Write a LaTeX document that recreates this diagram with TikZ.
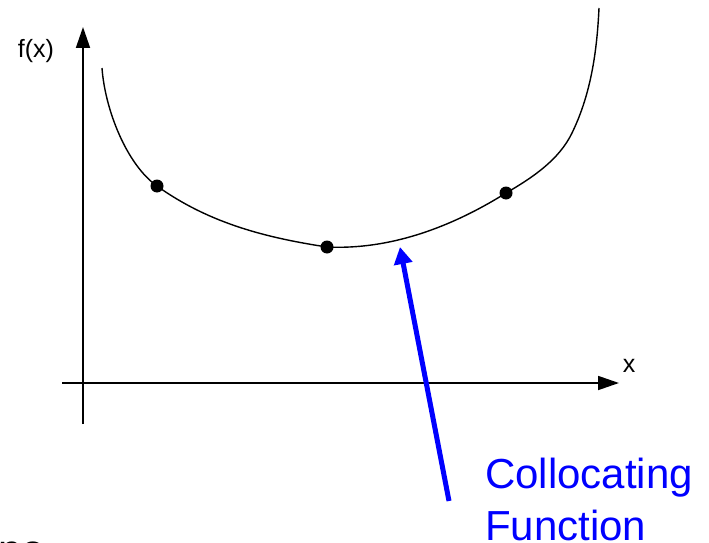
\documentclass[tikz,border=0pt]{standalone}
\usepackage{fontspec}
\setmainfont{Liberation Sans}
\usetikzlibrary{arrows.meta}
\definecolor{labelblue}{RGB}{0,0,255}
\tikzset{
  axisline/.style={line width=1.8pt,-{Triangle[length=21pt,width=14pt]}},
  curveline/.style={line width=1.4pt},
  pointdot/.style={circle,fill=black,inner sep=0pt,minimum size=13pt},
  bluearrow/.style={line width=5pt,draw=labelblue,-{Triangle[length=17pt,width=18pt]}},
  axislabel/.style={font=\fontsize{25}{30}\selectfont,inner sep=0pt},
  bluelabel/.style={font=\fontsize{42}{52}\selectfont,text=labelblue,inner sep=0pt,anchor=base west}
}
\begin{document}
\begin{tikzpicture}[x=1pt,y=-1pt]
\useasboundingbox (0,0) rectangle (709,543);
\clip (0,0) rectangle (709,543);
\fill[white] (0,0) rectangle (709,543);
% axes
\coordinate (ybot) at (83,424);
\coordinate (ytop) at (83,27);
\coordinate (xleft) at (62,383);
\coordinate (xright) at (619,383);
\draw[axisline] (ybot) -- (ytop);
\draw[axisline] (xleft) -- (xright);
\node[axislabel] (fx) at (36,51) {f(x)};
\node[axislabel] (xl) at (629,366) {x};
% curve
\coordinate (cstart) at (102,68);
\coordinate (p1) at (157,186);
\coordinate (p2) at (327,247);
\coordinate (p3) at (506,193);
\coordinate (q) at (572,133);
\coordinate (cend) at (599,8);
\draw[curveline] (cstart) .. controls (105,110) and (127,165) .. (p1)
  .. controls (210,224) and (268,238) .. (p2)
  .. controls (389,250) and (450,228) .. (p3)
  .. controls (532,178) and (559,160) .. (q)
  .. controls (591,94) and (597,51) .. (cend);
\node[pointdot] (d1) at (p1) {};
\node[pointdot] (d2) at (p2) {};
\node[pointdot] (d3) at (p3) {};
% blue arrow and label
\coordinate (atail) at (449,501);
\coordinate (ahead) at (400,247);
\draw[bluearrow] (atail) -- (ahead);
\node[bluelabel] (l1) at (485,488) {Collocating};
\node[bluelabel] (l2) at (485,540) {Function};
% clipped fragment at the bottom left
\node[font=\fontsize{42}{52}\selectfont,inner sep=0pt,anchor=base west] (frag) at (-2,564) {no};
\end{tikzpicture}
\end{document}
